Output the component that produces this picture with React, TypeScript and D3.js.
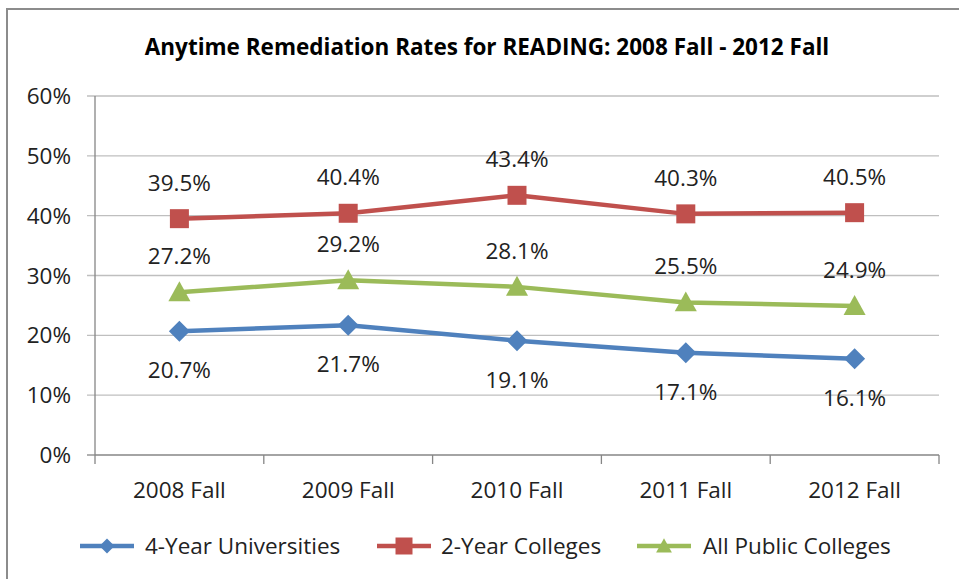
import React from "react";
import * as d3 from "d3";

const title = "Anytime Remediation Rates for READING: 2008 Fall - 2012 Fall";
const categories = ["2008 Fall", "2009 Fall", "2010 Fall", "2011 Fall", "2012 Fall"];
const fourYear = [20.7, 21.7, 19.1, 17.1, 16.1];
const twoYear = [39.5, 40.4, 43.4, 40.3, 40.5];
const allPublic = [27.2, 29.2, 28.1, 25.5, 24.9];
const yTicks = [0, 10, 20, 30, 40, 50, 60];

const W = 959;
const H = 579;
const FONT = "'Open Sans', 'Liberation Sans', Arial, sans-serif";
const FS = 22.5;

type Marker = "diamond" | "square" | "triangle";

const series = [
  { name: "4-Year Universities", values: fourYear, color: "#4F81BD", marker: "diamond" as Marker, labelPos: "below" },
  { name: "2-Year Colleges", values: twoYear, color: "#C0504D", marker: "square" as Marker, labelPos: "above" },
  { name: "All Public Colleges", values: allPublic, color: "#9BBB59", marker: "triangle" as Marker, labelPos: "above" },
];

function markerPath(m: Marker, s: number): string {
  const h = s / 2;
  if (m === "diamond") return `M0,${-h}L${h},0L0,${h}L${-h},0Z`;
  if (m === "square") return `M${-h},${-h}H${h}V${h}H${-h}Z`;
  return `M0,${-h * 1.05}L${h * 1.05},${h * 0.85}L${-h * 1.05},${h * 0.85}Z`;
}

export default function App() {
  const left = 95;
  const right = 939;
  const top = 96;
  const bottom = 455;

  const x = d3.scaleBand<string>().domain(categories).range([left, right]);
  const y = d3.scaleLinear().domain([0, 60]).range([bottom, top]);
  const cx = (c: string) => (x(c) as number) + x.bandwidth() / 2;

  const line = d3
    .line<number>()
    .x((_, i) => cx(categories[i]))
    .y((v) => y(v));

  const tickXs = [...categories.map((c) => x(c) as number), right];

  const legendItems = [
    { lx: 80, tx: 145 },
    { lx: 377, tx: 441 },
    { lx: 637, tx: 703 },
  ];
  const legendY = 546;

  return (
    <svg width={W} height={H} style={{ position: "absolute", left: 0, top: 0 }} fontFamily={FONT}>
      <rect x={0} y={0} width={W} height={H} fill="#fff" />
      <rect x={7} y={9} width={W + 20} height={H + 20} fill="none" stroke="#8c8c8c" strokeWidth={2} />
      <text x={487} y={55} textAnchor="middle" fontWeight="bold" fontSize={22.5} fill="#000">
        {title}
      </text>

      {yTicks.map((t) => (
        <g key={t}>
          <line x1={left - 8} x2={t === 0 ? left : right} y1={y(t)} y2={y(t)} stroke={t === 0 ? "#868686" : "#bfbfbf"} strokeWidth={1.3} />
          <text x={71} y={y(t)} dy="0.36em" textAnchor="end" fontSize={FS} fill="#222">
            {t}%
          </text>
        </g>
      ))}
      <line x1={left} x2={right} y1={bottom} y2={bottom} stroke="#868686" strokeWidth={1.3} />
      <line x1={left} x2={left} y1={top} y2={bottom} stroke="#868686" strokeWidth={1.3} />
      {tickXs.map((tx, i) => (
        <line key={i} x1={tx} x2={tx} y1={bottom} y2={bottom + 9} stroke="#868686" strokeWidth={1.3} />
      ))}
      {categories.map((c) => (
        <text key={c} x={cx(c)} y={498} textAnchor="middle" fontSize={FS} fill="#222">
          {c}
        </text>
      ))}

      {series.map((s) => (
        <g key={s.name}>
          <path d={line(s.values) || ""} fill="none" stroke={s.color} strokeWidth={4.5} strokeLinejoin="round" />
          {s.values.map((v, i) => (
            <path
              key={i}
              d={markerPath(s.marker, s.marker === "square" ? 19 : 21)}
              transform={`translate(${cx(categories[i])},${y(v)})`}
              fill={s.color}
            />
          ))}
          {s.values.map((v, i) => (
            <text
              key={"l" + i}
              x={cx(categories[i])}
              y={s.labelPos === "above" ? y(v) - 28 : y(v) + 47}
              textAnchor="middle"
              fontSize={FS}
              fill="#222"
            >
              {v.toFixed(1)}%
            </text>
          ))}
        </g>
      ))}

      {series.map((s, i) => {
        const it = legendItems[i];
        return (
          <g key={"leg" + s.name}>
            <line x1={it.lx} x2={it.lx + 54} y1={legendY} y2={legendY} stroke={s.color} strokeWidth={4.5} />
            <path d={markerPath(s.marker, s.marker === "square" ? 17 : 15)} transform={`translate(${it.lx + 27},${legendY})`} fill={s.color} />
            <text x={it.tx} y={legendY} dy="0.36em" fontSize={FS} fill="#222">
              {s.name}
            </text>
          </g>
        );
      })}
    </svg>
  );
}
